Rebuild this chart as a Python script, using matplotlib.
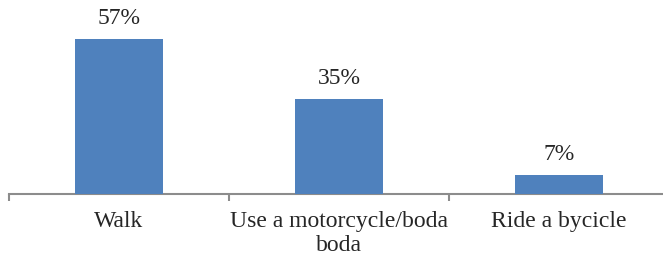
import matplotlib.pyplot as plt

# survey: how people get to the facility
categories = ['Walk', 'Use a motorcycle/boda\nboda', 'Ride a bycicle']
values = [57, 35, 7]
labels = ['57%', '35%', '7%']

plt.rcParams['font.family'] = ['Liberation Serif', 'DejaVu Serif']

fig = plt.figure(figsize=(6.63, 2.59), dpi=100)
# axis line sits at y=194px, spans from x=9px past the right edge
ax = fig.add_axes([9 / 663, 65 / 259, 653 / 663, 194 / 259])

x = range(len(values))
ax.bar(x, values, width=0.4, color='#4F81BD', zorder=3)

for xi, v, lab in zip(x, values, labels):
    ax.annotate(lab, (xi, v), xytext=(0, 7), textcoords='offset points',
                ha='center', va='bottom', fontsize=17, color='#262626')

ax.set_xlim(-0.5, 2.468)
ax.set_ylim(0, 71.3)

for s in ['top', 'right', 'left']:
    ax.spines[s].set_visible(False)
ax.spines['bottom'].set_color('#8C8C8C')
ax.spines['bottom'].set_linewidth(1.5)

ax.set_yticks([])
ax.set_xticks([-0.5, 0.5, 1.5])
ax.set_xticklabels([])
ax.tick_params(axis='x', length=5, width=1.5, color='#8C8C8C')
ax.set_xticks(list(x), minor=True)
ax.set_xticklabels(categories, minor=True, fontsize=17, color='#262626',
                   linespacing=1.2)
ax.tick_params(axis='x', which='minor', length=0, pad=12)

fig.savefig('out.png', dpi=100)
